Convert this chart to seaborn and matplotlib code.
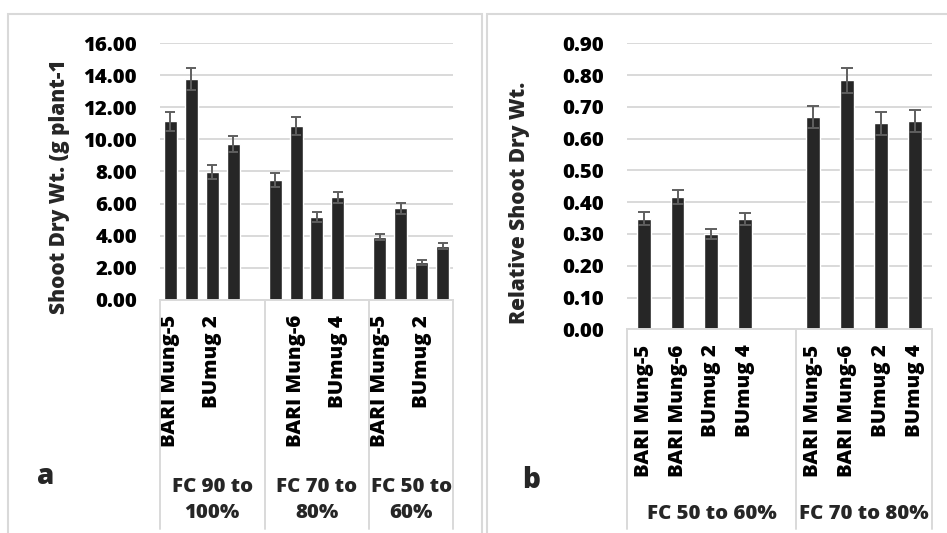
import numpy as np
import pandas as pd
import matplotlib
matplotlib.use("Agg")
import matplotlib.pyplot as plt
import matplotlib.transforms as mtransforms
from matplotlib.patches import Rectangle
from matplotlib.lines import Line2D
import seaborn as sns

# ---------------- data ----------------
genotypes = ["BARI Mung-5", "BARI Mung-6", "BUmug 2", "BUmug 4"]

treat_a = ["FC 90 to\n100%", "FC 70 to\n80%", "FC 50 to\n60%"]
sdw_a = [11.13, 13.79, 7.96, 9.71,
         7.46, 10.84, 5.15, 6.38,
         3.92, 5.71, 2.34, 3.36]
err_a = [0.58, 0.69, 0.42, 0.50,
         0.42, 0.56, 0.31, 0.33,
         0.18, 0.35, 0.16, 0.20]
yticks_a = [0, 2, 4, 6, 8, 10, 12, 14, 16]

treat_b = ["FC 50 to 60%", "FC 70 to 80%"]
rel_b = [0.348, 0.415, 0.300, 0.346,
         0.668, 0.784, 0.648, 0.656]
err_b = [0.020, 0.022, 0.015, 0.019,
         0.034, 0.039, 0.035, 0.035]
yticks_b = [0.0, 0.1, 0.2, 0.3, 0.4, 0.5, 0.6, 0.7, 0.8, 0.9]

ylabel_a = "Shoot Dry Wt. (g plant-1"
ylabel_b = "Relative Shoot Dry Wt."

# ---------------- style ----------------
sns.set_theme(style="white")
plt.rcParams["font.family"] = ["Open Sans", "DejaVu Sans"]
plt.rcParams["font.weight"] = "heavy"

BAR = "#262626"
ERR = "#5f5f5f"
GRID = "#d9d9d9"
FS = 14.7
WT = "heavy"

W, H = 947, 533
fig = plt.figure(figsize=(W / 100, H / 100), dpi=100)


def fx(px):
    return px / W


def fy(py):
    return 1 - py / H


def build(treats, vals, errs):
    order, rows, labels = [], [], []
    for ti, t in enumerate(treats):
        for gi, g in enumerate(genotypes):
            key = f"{ti}|{g}"
            order.append(key)
            labels.append(g)
            rows.append({"slot": key, "value": vals[ti * 4 + gi], "err": errs[ti * 4 + gi]})
        if ti < len(treats) - 1:
            order.append(f"gap{ti}")
            labels.append("")
    return pd.DataFrame(rows), order, labels


def panel(rect_px, treats, vals, errs, yticks, ylabel, ylabel_xy, width, capsize,
          label_step, group_two_lines, letter, letter_xy):
    l, t, r, b = rect_px
    ax = fig.add_axes([fx(l), fy(b), fx(r) - fx(l), fy(t) - fy(b)])
    df, order, labels = build(treats, vals, errs)
    sns.barplot(data=df, x="slot", y="value", order=order, color=BAR,
                saturation=1, width=width, errorbar=None, ax=ax, zorder=2)
    xs = [order.index(s) for s in df["slot"]]
    ax.errorbar(xs, df["value"], yerr=df["err"], fmt="none", ecolor=ERR,
                elinewidth=1.4, capsize=capsize, capthick=1.4, zorder=3)
    n = len(order)
    ax.set_xlim(-0.5, n - 0.5)
    ax.set_ylim(yticks[0], yticks[-1])
    ax.set_yticks(yticks)
    ax.set_yticklabels([f"{v:.2f}" for v in yticks], fontsize=FS, fontweight=WT)
    ax.yaxis.grid(True, color=GRID, lw=1.4, zorder=0)
    ax.set_axisbelow(True)
    shown = [lab if (i % label_step == 0) else "" for i, lab in enumerate(labels)]
    ax.set_xticks(range(n))
    ax.set_xticklabels(shown, rotation=90, fontsize=FS, fontweight=WT)
    ax.tick_params(axis="both", length=0, colors="black")
    ax.tick_params(axis="y", pad=16.5)
    ax.tick_params(axis="x", pad=11)
    ax.set_xlabel("")
    ax.set_ylabel("")
    for s in ["top", "right", "left"]:
        ax.spines[s].set_visible(False)
    ax.spines["bottom"].set_color(GRID)
    ax.spines["bottom"].set_linewidth(1.4)

    # category box lines
    tr = mtransforms.blended_transform_factory(ax.transData, fig.transFigure)
    bounds = [-0.5]
    for i, s in enumerate(order):
        if s.startswith("gap"):
            bounds.append(i + 0.5)
    bounds.append(n - 0.5)
    for bx in bounds:
        fig.add_artist(Line2D([bx, bx], [fy(b), fy(529)], transform=tr,
                              color=GRID, lw=1.4))
    # group labels
    for gi, tname in enumerate(treats):
        cx = (bounds[gi] + bounds[gi + 1]) / 2
        ypos = fy(500) if group_two_lines else fy(514)
        ax.text(cx, ypos, tname, transform=tr, ha="center", va="center",
                fontsize=FS, fontweight=WT, linespacing=1.45)

    fig.text(fx(ylabel_xy[0]), fy(ylabel_xy[1]), ylabel, rotation=90,
             ha="center", va="center", fontsize=FS + 0.3, fontweight=WT)
    fig.text(fx(letter_xy[0]), fy(letter_xy[1]), letter, ha="center",
             va="center", fontsize=20, fontweight=WT)
    return ax


# panel borders
for (x0, x1) in [(8, 482), (487, 960)]:
    fig.add_artist(Rectangle((fx(x0), fy(560)), fx(x1) - fx(x0), fy(14) - fy(560),
                             transform=fig.transFigure, fill=False,
                             edgecolor=GRID, lw=1.5, clip_on=False))

panel((160, 43.3, 453, 299.7), treat_a, sdw_a, err_a, yticks_a, ylabel_a,
      (60, 187), 0.62, 3.3, 2, True, "a", (46, 476))
panel((626.7, 43.3, 931.7, 329.3), treat_b, rel_b, err_b, yticks_b, ylabel_b,
      (519, 203), 0.41, 4.0, 1, False, "b", (531, 481))

fig.savefig("out.png", dpi=100)
